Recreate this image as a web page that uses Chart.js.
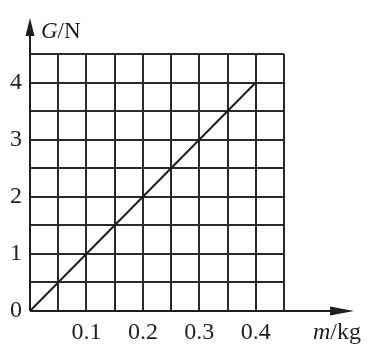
<!DOCTYPE html>
<html>
<head>
<meta charset="utf-8">
<style>
  html, body { margin: 0; padding: 0; background: #fff; }
  #wrap { width: 374px; height: 363px; }
</style>
<script src="https://cdn.jsdelivr.net/npm/chart.js@4.4.0/dist/chart.umd.min.js"></script>
</head>
<body>
<div id="wrap"><canvas id="gm"></canvas></div>
<script>
// G-m graph data
const massKg = [0, 0.4];
const weightN = [0, 4];
const xTickLabels = [0.1, 0.2, 0.3, 0.4];
const yTickLabels = [0, 1, 2, 3, 4];

const ink = '#1e1e1e';
const serif = '"Liberation Serif", "DejaVu Serif", serif';

// axis lines with arrows + axis titles
const axisArrows = {
    id: 'axisArrows',
    afterDatasetsDraw(chart) {
        const ctx = chart.ctx;
        const x0 = chart.scales.x.getPixelForValue(0);
        const y0 = chart.scales.y.getPixelForValue(0);
        ctx.save();
        ctx.strokeStyle = ink;
        ctx.fillStyle = ink;
        ctx.lineWidth = 2;

        // y axis
        ctx.beginPath();
        ctx.moveTo(x0, y0);
        ctx.lineTo(x0, 30);
        ctx.stroke();
        ctx.beginPath();
        ctx.moveTo(x0, 18);
        ctx.lineTo(x0 - 4.5, 36);
        ctx.lineTo(x0 + 4.5, 36);
        ctx.closePath();
        ctx.fill();

        // x axis
        ctx.beginPath();
        ctx.moveTo(x0, y0);
        ctx.lineTo(340, y0);
        ctx.stroke();
        ctx.beginPath();
        ctx.moveTo(354, y0);
        ctx.lineTo(330, y0 - 4.5);
        ctx.lineTo(330, y0 + 4.5);
        ctx.closePath();
        ctx.fill();

        // titles
        ctx.textBaseline = 'alphabetic';
        ctx.textAlign = 'left';
        ctx.font = 'italic 23px ' + serif;
        ctx.fillText('G', 41, 38);
        let w = ctx.measureText('G').width;
        ctx.font = '23px ' + serif;
        ctx.fillText('/N', 41 + w, 38);

        ctx.font = 'italic 24px ' + serif;
        ctx.fillText('m', 313, 339);
        w = ctx.measureText('m').width;
        ctx.font = '24px ' + serif;
        ctx.fillText('/kg', 313 + w, 339);
        ctx.restore();
    }
};

function onList(v, list) {
    return list.some(t => Math.abs(t - v) < 1e-6);
}

new Chart(document.getElementById('gm'), {
    type: 'scatter',
    data: {
        datasets: [{
            data: massKg.map((m, i) => ({ x: m, y: weightN[i] })),
            showLine: true,
            borderColor: ink,
            borderWidth: 2,
            pointRadius: 0
        }]
    },
    options: {
        responsive: true,
        maintainAspectRatio: false,
        animation: false,
        layout: { padding: { top: 54, right: 90, bottom: 0, left: 0 } },
        plugins: { legend: { display: false }, tooltip: { enabled: false } },
        scales: {
            x: {
                type: 'linear',
                min: 0,
                max: 0.45,
                afterFit: s => { s.height = 52; },
                border: { display: false },
                grid: { color: '#2a2a2a', lineWidth: 2, drawTicks: false },
                ticks: {
                    stepSize: 0.05,
                    autoSkip: false,
                    maxRotation: 0,
                    padding: 7,
                    color: '#222',
                    font: { family: serif, size: 24 },
                    callback: v => onList(v, xTickLabels) ? String(Math.round(v * 10) / 10) : ''
                }
            },
            y: {
                type: 'linear',
                min: 0,
                max: 4.5,
                afterFit: s => { s.width = 30; },
                border: { display: false },
                grid: { color: '#2a2a2a', lineWidth: 2, drawTicks: false },
                ticks: {
                    stepSize: 0.5,
                    autoSkip: false,
                    padding: 8,
                    color: '#222',
                    font: { family: serif, size: 24 },
                    callback: v => onList(v, yTickLabels) ? String(Math.round(v)) : ''
                }
            }
        }
    },
    plugins: [axisArrows]
});
</script>
</body>
</html>
